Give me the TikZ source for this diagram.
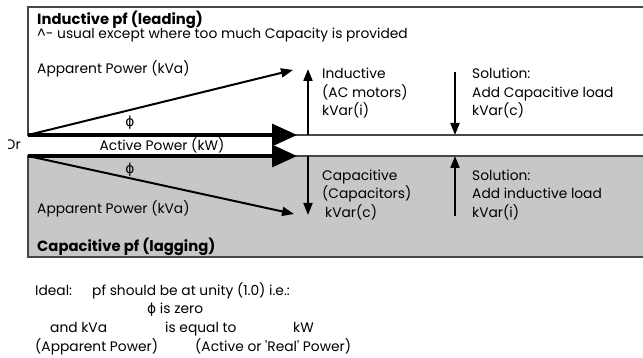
\documentclass[tikz,border=0pt]{standalone}
\usepackage{fontspec}
\setmainfont{Poppins}
\newfontfamily\grkfont{DejaVu Sans}
\usetikzlibrary{arrows.meta}

\begin{document}
\begin{tikzpicture}[x=1pt,y=-1pt]
\tikzset{lbl/.style = {anchor=base west,inner sep=0pt,font=\fontsize{13.8}{18.7}\selectfont},
  blk/.style = {lbl,align=left},
  hdr/.style = {lbl,font=\fontsize{14.8}{18}\selectfont\bfseries},
  frame/.style = {draw=black!72,line width=1.5pt},
  power/.style = {-{Triangle[length=25pt,width=22pt]},line width=3.4pt},
  vec/.style = {-{Triangle[length=12pt,width=9pt]},line width=2pt}}

\useasboundingbox (0,0) rectangle (643,358);

\fill[black!22] (28,156) rectangle (645,257);
\draw[frame] (645,7) -- (28,7) -- (28,135) -- (645,135);
\draw[frame] (645,156) -- (28,156) -- (28,257) -- (645,257);

\coordinate (O1) at (28,135);
\coordinate (O2) at (28,156);
\coordinate (P1) at (297,135);
\coordinate (P2) at (297,156);
\coordinate (S1) at (293,70);
\coordinate (S2) at (294,214);
\coordinate (I0) at (308,135);
\coordinate (I1) at (308,69);
\coordinate (C0) at (308,156);
\coordinate (C1) at (308,215);
\coordinate (F0) at (455,72);
\coordinate (F1) at (455,135);
\coordinate (G0) at (455,216);
\coordinate (G1) at (455,156);

\draw[vec] (O1) -- (S1);
\draw[vec] (O2) -- (S2);
\draw[power] (O1) -- (P1);
\draw[power] (O2) -- (P2);
\draw[vec] (I0) -- (I1);
\draw[vec] (C0) -- (C1);
\draw[vec] (F0) -- (F1);
\draw[vec] (G0) -- (G1);

\begin{scope}
\clip (8,130) rectangle (28,160);
\node[lbl] (orig) at (4.5,150) {Or};
\end{scope}

\node[hdr] (indpf) at (37,25) {Inductive pf (leading)};
\node[lbl] (usual) at (37,39) {\textasciicircum- usual except where too much Capacity is provided};
\node[lbl] (appA) at (37,74) {Apparent Power (kVa)};
\node[lbl,anchor=base] (phiA) at (130,127) {\grkfont ϕ};
\node[lbl,anchor=base] (act) at (162,151) {Active Power (kW)};
\node[lbl,anchor=base] (phiB) at (130,174) {\grkfont ϕ};
\node[lbl] (appB) at (37,214) {Apparent Power (kVa)};
\node[hdr] (cappf) at (37,252) {Capacitive pf (lagging)};

\node[blk] (ind) at (322,116) {Inductive\\(AC motors)\\kVar(i)};
\node[blk] (solA) at (472,116) {Solution:\\Add Capacitive load\\kVar(c)};
\node[blk] (cap) at (322,217.5) {Capacitive\\(Capacitors)\\\hspace{3pt}kVar(c)};
\node[blk] (solB) at (472,217.5) {Solution:\\Add inductive load\\kVar(i)};

\node[lbl] (ideal) at (35,295) {Ideal:};
\node[lbl] (unity) at (92,295) {pf should be at unity (1.0) i.e.:};
\node[lbl] (zero) at (147,313) {{\grkfont ϕ} is zero};
\node[lbl] (kva) at (50,332) {and kVa};
\node[lbl] (equal) at (165,332) {is equal to};
\node[lbl] (kw) at (293,332) {kW};
\node[lbl] (appP) at (35,351) {(Apparent Power)};
\node[lbl] (actP) at (195,351) {(Active or \textquotesingle Real\textquotesingle\ Power)};
\end{tikzpicture}
\end{document}
